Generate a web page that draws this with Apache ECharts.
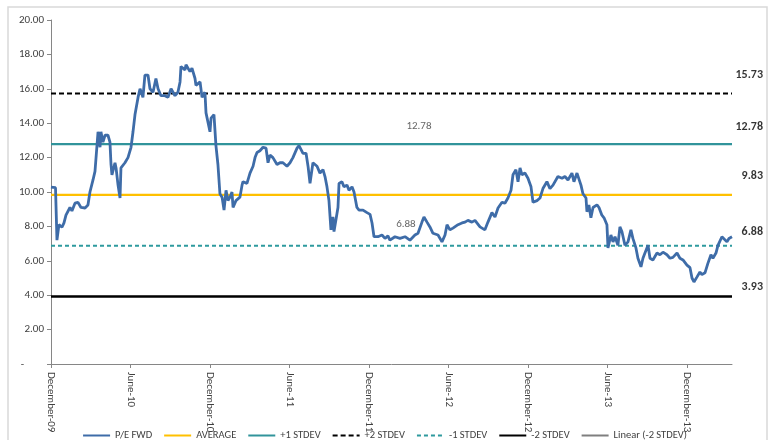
<!DOCTYPE html>
<html>
<head>
<meta charset="utf-8">
<script src="https://cdn.jsdelivr.net/npm/echarts@6/dist/echarts.min.js"></script>
<style>html,body{margin:0;padding:0;background:#fff;}#c{width:769px;height:440px;}</style>
</head>
<body>
<div id="c"></div>
<script>
// X positions: months since December 2009 (fractional)
const months = [0.00,0.34,0.45,0.60,0.83,0.98,1.13,1.43,1.58,1.81,2.04,2.26,2.57,2.79,2.94,3.17,3.32,3.55,3.70,3.77,3.92,4.08,4.30,4.45,4.53,4.60,4.83,4.91,5.06,5.21,5.28,5.58,5.81,6.04,6.19,6.34,6.57,6.72,6.94,7.09,7.32,7.47,7.70,7.92,8.08,8.30,8.60,8.83,9.06,9.36,9.58,9.74,9.81,10.11,10.19,10.49,10.64,10.87,10.94,11.25,11.40,11.62,11.70,12.00,12.08,12.30,12.45,12.60,12.75,12.91,13.06,13.21,13.36,13.51,13.66,13.74,13.96,14.11,14.26,14.42,14.49,14.79,15.02,15.25,15.40,15.55,15.77,16.00,16.23,16.38,16.53,16.75,17.06,17.28,17.51,17.81,18.04,18.26,18.57,18.72,18.87,19.02,19.25,19.40,19.55,19.77,20.08,20.30,20.53,20.68,20.83,20.98,21.13,21.28,21.36,21.51,21.66,21.74,21.96,22.11,22.34,22.49,22.72,22.87,23.09,23.25,23.55,23.85,24.08,24.23,24.38,24.68,24.98,25.21,25.43,25.58,25.96,26.34,26.72,27.09,27.47,27.70,28.00,28.15,28.38,28.60,28.83,29.21,29.51,29.74,29.89,30.11,30.34,30.72,31.02,31.25,31.47,31.77,32.00,32.38,32.75,32.98,33.28,33.51,33.74,34.04,34.26,34.49,34.72,34.87,35.09,35.25,35.40,35.55,35.77,36.00,36.23,36.38,36.68,36.91,37.13,37.43,37.66,37.89,38.04,38.26,38.57,38.79,39.02,39.32,39.47,39.70,39.85,40.00,40.15,40.38,40.45,40.60,40.75,40.91,41.21,41.36,41.58,41.74,41.96,42.04,42.26,42.42,42.57,42.79,42.94,43.09,43.32,43.55,43.77,43.92,44.15,44.30,44.53,44.68,44.83,45.06,45.21,45.43,45.74,45.96,46.19,46.49,46.72,46.94,47.25,47.47,47.70,48.00,48.23,48.38,48.53,48.75,48.98,49.13,49.36,49.51,49.58,49.81,49.96,50.19,50.34,50.49,50.64,50.79,51.02,51.17,51.40];
const peFwd = [10.29,10.25,7.2,8.1,7.95,8.2,8.66,9.1,8.9,9.35,9.4,9.1,9.07,9.24,10.0,10.7,11.2,13.5,12.6,13.5,12.9,13.3,13.3,12.9,11.6,11.0,11.7,11.4,10.4,9.65,11.4,11.7,12.0,12.6,13.5,14.5,15.5,16.0,15.5,16.8,16.8,16.0,15.8,16.6,16.0,15.6,15.6,15.5,16.0,15.6,15.8,16.4,17.3,17.1,17.4,17.0,17.2,16.6,16.2,16.4,15.5,15.8,14.6,13.5,14.3,14.5,12.7,11.6,9.9,9.7,8.95,10.1,9.5,9.7,10.0,9.1,9.5,9.4,9.7,10.4,10.6,10.5,11.1,11.5,12.0,12.3,12.4,12.6,12.55,11.7,12.15,12.0,11.6,11.7,11.7,11.5,11.7,12.0,12.55,12.7,12.8,12.25,12.25,11.5,10.5,11.7,11.5,11.1,11.3,10.9,10.3,9.5,7.8,8.55,7.7,8.4,9.1,10.5,10.6,10.3,10.4,10.1,10.3,10.0,9.1,8.95,8.95,8.8,8.7,8.2,7.4,7.4,7.5,7.3,7.45,7.2,7.4,7.3,7.4,7.2,7.5,7.6,8.25,8.55,8.25,7.97,7.6,7.5,7.1,7.5,8.1,7.8,7.9,8.1,8.2,8.25,8.35,8.25,8.35,7.97,7.8,8.25,8.8,8.55,9.07,9.4,9.35,9.65,10.1,11.0,11.3,10.6,11.4,11.0,11.1,10.8,10.3,9.4,9.5,9.65,10.2,10.6,10.2,10.4,10.3,10.9,10.8,10.9,10.7,11.1,10.6,11.1,11.0,10.4,9.9,9.65,8.85,9.25,8.5,9.1,9.25,9.1,8.65,8.5,8.1,6.75,7.5,7.1,7.4,6.9,7.97,7.7,6.9,7.1,7.8,7.3,6.75,6.15,5.65,6.15,6.45,6.9,6.15,6.05,6.45,6.35,6.5,6.35,6.15,6.2,6.45,6.15,6.05,5.75,5.6,5.0,4.77,5.05,5.35,5.2,5.3,5.35,5.85,6.35,6.15,6.45,6.9,6.8,7.4,7.5,7.1,7.3,7.4];
const tickLabels = ["December-09","June-10","December-10","June-11","December-11","June-12","December-12","June-13","December-13"];
const seriesNames = ["P/E FWD","AVERAGE","+1 STDEV","+2 STDEV","-1 STDEV","-2 STDEV","Linear (-2 STDEV)"];
const AVERAGE = 9.83;
const PLUS1 = 12.78;
const PLUS2 = 15.73;
const MINUS1 = 6.88;
const MINUS2 = 3.93;
const X_MIN = 0;
const X_MAX = 51.4;
const PLUS1_MID = 27.77;
const MINUS1_MID = 26.79;

const FONT = "Carlito, 'Liberation Sans Narrow', 'Liberation Sans', Arial, sans-serif";
const peData = months.map((m, i) => [m, peFwd[i]]);
const flat = v => [[X_MIN, v], [X_MAX, v]];

function hline(name, v, color, width, type, z) {
  return {
    name: name, type: 'line', data: flat(v), symbol: 'none', z: z || 2,
    lineStyle: { color: color, width: width, type: type }, itemStyle: { color: color },
    animation: false, silent: true
  };
}

const endLabel = (v, dy) => ({
  value: [X_MAX, v],
  label: { show: true, position: 'inside', align: 'right', offset: [31, dy], formatter: v.toFixed(2),
    fontWeight: 'bold', fontSize: 12, color: '#000', fontFamily: FONT }
});
const midLabel = (x, v, dy) => ({
  value: [x, v],
  label: { show: true, position: 'inside', align: 'center', offset: [0, dy], formatter: v.toFixed(2),
    fontSize: 11, color: '#404040', fontFamily: FONT }
});

const chart = echarts.init(document.getElementById('c'), null, { renderer: 'canvas' });
chart.setOption({
  animation: false,
  backgroundColor: '#fff',
  textStyle: { fontFamily: FONT },
  graphic: [{
    type: 'rect', shape: { x: 8, y: 7, width: 759, height: 445 }, silent: true, z: -10,
    style: { fill: 'none', stroke: '#d9d9d9', lineWidth: 1.5 }
  }],
  grid: { left: 51, right: 37, top: 20, bottom: 76, containLabel: false },
  legend: {
    data: seriesNames, left: 'center', top: 425, itemWidth: 27, itemHeight: 8, itemGap: 11,
    itemStyle: { opacity: 0 },
    textStyle: { fontSize: 10.5, color: '#404040', fontFamily: FONT }
  },
  xAxis: {
    type: 'value', min: X_MIN, max: X_MAX, interval: 6,
    splitLine: { show: false },
    axisLine: { lineStyle: { color: '#868686', width: 1 } },
    axisTick: { show: true, length: 4, lineStyle: { color: '#868686' } },
    axisLabel: {
      rotate: -90, margin: 8, fontSize: 11, color: '#404040', fontFamily: FONT,
      showMaxLabel: false,
      formatter: v => { const k = Math.round(v / 6); return tickLabels[k] || ''; }
    }
  },
  yAxis: {
    type: 'value', min: 0, max: 20, interval: 2,
    splitLine: { show: false },
    axisLine: { show: true, lineStyle: { color: '#868686', width: 1 } },
    axisTick: { show: true, length: 4, lineStyle: { color: '#868686' } },
    axisLabel: {
      margin: 7, fontSize: 11, color: '#404040', fontFamily: FONT,
      formatter: v => v === 0 ? '-        ' : v.toFixed(2)
    }
  },
  series: [
    hline(seriesNames[6], MINUS2, '#7f7f7f', 1, 'solid', 1),
    hline(seriesNames[1], AVERAGE, '#FFC000', 2.2, 'solid', 2),
    hline(seriesNames[2], PLUS1, '#31949b', 2.2, 'solid', 2),
    hline(seriesNames[3], PLUS2, '#000000', 2, [5, 3], 2),
    hline(seriesNames[4], MINUS1, '#2e9a9e', 2, [4, 3], 2),
    hline(seriesNames[5], MINUS2, '#000000', 2.5, 'solid', 2),
    {
      name: seriesNames[0], type: 'line', data: peData, symbol: 'none', z: 5,
      lineStyle: { color: '#3e6ca8', width: 2.8 }, itemStyle: { color: '#3e6ca8' }, silent: true
    },
    {
      name: 'labels', type: 'scatter', symbolSize: 0, z: 6, silent: true,
      data: [
        endLabel(PLUS2, -18), endLabel(PLUS1, -17), endLabel(AVERAGE, -19),
        endLabel(MINUS1, -14), endLabel(MINUS2, -9),
        midLabel(PLUS1_MID, PLUS1, -18), midLabel(MINUS1_MID, MINUS1, -21)
      ]
    }
  ]
});
</script>
</body>
</html>
